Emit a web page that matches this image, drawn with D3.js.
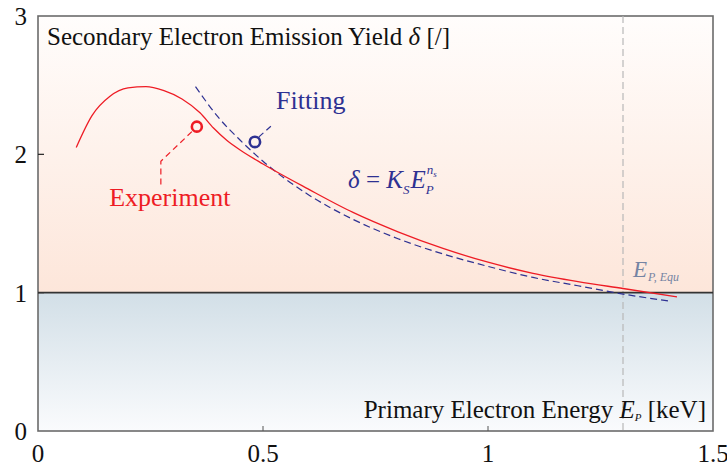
<!DOCTYPE html>
<html>
<head>
<meta charset="utf-8">
<script src="https://cdn.jsdelivr.net/npm/d3@7"></script>
<style>
  body { margin: 0; background: #fff; }
  #chart text { font-family: "Liberation Serif", "Times New Roman", Times, "Nimbus Roman", "Noto Serif", "DejaVu Serif", serif; }
</style>
</head>
<body>
<svg id="chart" width="727" height="468"></svg>
<script>
// data
const expE   = [0.085, 0.12, 0.16, 0.2, 0.24, 0.28, 0.32, 0.36, 0.39, 0.42, 0.45, 0.5, 0.6, 0.7, 0.8, 0.9, 1.0, 1.1, 1.2, 1.3, 1.42];
const expD   = [2.05, 2.28, 2.42, 2.48, 2.49, 2.46, 2.40, 2.30, 2.19, 2.10, 2.03, 1.93, 1.75, 1.58, 1.44, 1.32, 1.22, 1.14, 1.08, 1.03, 0.97];
const fitE   = [0.35, 0.4, 0.45, 0.5, 0.6, 0.7, 0.8, 0.9, 1.0, 1.1, 1.2, 1.3, 1.4];
const fitD   = [2.49, 2.27, 2.10, 1.95, 1.71, 1.53, 1.39, 1.28, 1.19, 1.11, 1.05, 0.99, 0.94];
const xTicks = [0, 0.5, 1, 1.5];
const yTicks = [0, 1, 2, 3];
const equE = 1.3;
const expMark = [0.353, 2.20];
const fitMark = [0.482, 2.09];

const svg = d3.select("#chart");
const margin = { top: 16, right: 14, bottom: 37, left: 38 };
const iw = 727 - margin.left - margin.right;
const ih = 468 - margin.top - margin.bottom;
const g = svg.append("g").attr("transform", `translate(${margin.left},${margin.top})`);

const x = d3.scaleLinear().domain([0, 1.5]).range([0, iw]);
const y = d3.scaleLinear().domain([0, 3]).range([ih, 0]);

const red = "#ee1c25", blue = "#2e3192";
const fs = 25;

// background gradients
const defs = svg.append("defs");
const gUp = defs.append("linearGradient").attr("id", "up").attr("x1", 0).attr("y1", 0).attr("x2", 0).attr("y2", 1);
gUp.append("stop").attr("offset", 0).attr("stop-color", "#fffdfc");
gUp.append("stop").attr("offset", 1).attr("stop-color", "#fde6da");
const gDn = defs.append("linearGradient").attr("id", "dn").attr("x1", 0).attr("y1", 0).attr("x2", 0).attr("y2", 1);
gDn.append("stop").attr("offset", 0).attr("stop-color", "#d2dfe7");
gDn.append("stop").attr("offset", 1).attr("stop-color", "#fafbfd");

g.append("rect").attr("x", 0).attr("y", y(3)).attr("width", iw).attr("height", y(1) - y(3)).attr("fill", "url(#up)");
g.append("rect").attr("x", 0).attr("y", y(1)).attr("width", iw).attr("height", y(0) - y(1)).attr("fill", "url(#dn)");

// frame
g.append("rect").attr("width", iw).attr("height", ih)
  .attr("fill", "none").attr("stroke", "#6b6b6b").attr("stroke-width", 1.6);

// inner ticks
g.selectAll(".xt").data(xTicks.slice(1, 3)).join("line")
  .attr("x1", d => x(d)).attr("x2", d => x(d)).attr("y1", ih).attr("y2", ih - 5)
  .attr("stroke", "#555").attr("stroke-width", 1);
g.selectAll(".yt").data(yTicks.slice(1, 3)).join("line")
  .attr("x1", 0).attr("x2", 6).attr("y1", d => y(d)).attr("y2", d => y(d))
  .attr("stroke", "#222").attr("stroke-width", 1.2);

// tick labels
g.selectAll(".xl").data(xTicks).join("text")
  .attr("x", d => x(d)).attr("y", ih + 31)
  .attr("text-anchor", "middle").attr("font-size", fs).attr("fill", "#111")
  .text(d => d);
g.selectAll(".yl").data(yTicks).join("text")
  .attr("x", -11).attr("y", d => y(d) + 9)
  .attr("text-anchor", "end").attr("font-size", fs).attr("fill", "#111")
  .text(d => d);

// equilibrium line
g.append("line").attr("x1", x(equE)).attr("x2", x(equE)).attr("y1", 0).attr("y2", ih)
  .attr("stroke", "#b8b8b8").attr("stroke-width", 1.2).attr("stroke-dasharray", "7,4");

// delta = 1 line
g.append("line").attr("x1", 0).attr("x2", iw).attr("y1", y(1)).attr("y2", y(1))
  .attr("stroke", "#333").attr("stroke-width", 1.6);

const line = d3.line().curve(d3.curveMonotoneX);

g.append("path")
  .attr("d", line(fitE.map((e, i) => [x(e), y(fitD[i])])))
  .attr("fill", "none").attr("stroke", blue).attr("stroke-width", 1.2).attr("stroke-dasharray", "7,4");

g.append("path")
  .attr("d", line(expE.map((e, i) => [x(e), y(expD[i])])))
  .attr("fill", "none").attr("stroke", red).attr("stroke-width", 1.3);

// callouts
const ex = x(expMark[0]), ey = y(expMark[1]);
g.append("path").attr("d", `M${ex - 5},${ey + 5}L${x(0.273)},${y(1.95)}V${y(1.78)}`)
  .attr("fill", "none").attr("stroke", red).attr("stroke-width", 1.2).attr("stroke-dasharray", "6,4");
g.append("circle").attr("cx", ex).attr("cy", ey).attr("r", 5)
  .attr("fill", "none").attr("stroke", red).attr("stroke-width", 2.6);
g.append("text").attr("x", x(0.293)).attr("y", y(1.63)).attr("text-anchor", "middle")
  .attr("font-size", fs + 1).attr("fill", red).text("Experiment");

const fx = x(fitMark[0]), fy = y(fitMark[1]);
g.append("path").attr("d", `M${fx + 4},${fy - 5}L${x(0.52)},${y(2.21)}`)
  .attr("fill", "none").attr("stroke", blue).attr("stroke-width", 1.2).attr("stroke-dasharray", "6,4");
g.append("circle").attr("cx", fx).attr("cy", fy).attr("r", 5.2)
  .attr("fill", "none").attr("stroke", blue).attr("stroke-width", 2.6);
g.append("text").attr("x", x(0.529)).attr("y", y(2.33))
  .attr("font-size", fs + 1).attr("fill", blue).text("Fitting");

// formula
const f = g.append("text").attr("x", x(0.689)).attr("y", y(1.76))
  .attr("font-size", fs).attr("fill", blue).attr("font-style", "italic");
f.append("tspan").text("δ ");
f.append("tspan").attr("font-style", "normal").text("= ");
f.append("tspan").text("K");
f.append("tspan").attr("font-size", 13).attr("dy", 6).text("S");
f.append("tspan").attr("dy", -6).attr("dx", 1).text("E");
f.append("tspan").attr("font-size", 13).attr("dy", 6).text("P");
f.append("tspan").attr("font-size", 13).attr("dy", -20).attr("dx", -7).text("n");
f.append("tspan").attr("font-size", 9).attr("dy", 3).text("s");

// E_P,Equ label
const q = g.append("text").attr("x", x(1.322)).attr("y", y(1.11))
  .attr("font-size", 23).attr("fill", "#7584a3").attr("font-style", "italic");
q.append("tspan").text("E");
q.append("tspan").attr("font-size", 12).attr("dy", 4).attr("dx", 1).text("P, Equ");

// axis titles inside
const t = g.append("text").attr("x", 9).attr("y", 29).attr("font-size", fs).attr("fill", "#111");
t.append("tspan").text("Secondary Electron Emission Yield ");
t.append("tspan").attr("font-style", "italic").text("δ");
t.append("tspan").text(" [/]");

const b = g.append("text").attr("x", iw - 7).attr("y", ih - 13).attr("text-anchor", "end")
  .attr("font-size", fs).attr("fill", "#111");
b.append("tspan").text("Primary Electron Energy ");
b.append("tspan").attr("font-style", "italic").text("E");
b.append("tspan").attr("font-style", "italic").attr("font-size", 11).attr("dy", 3).text("P");
b.append("tspan").attr("dy", -3).text(" [keV]");
</script>
</body>
</html>
